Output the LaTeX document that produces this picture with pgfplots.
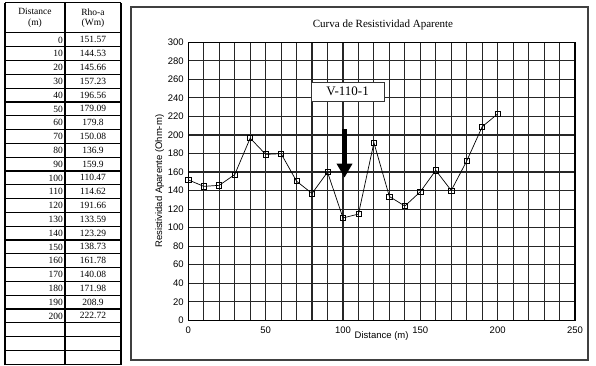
\documentclass[border=0pt]{standalone}
\usepackage{pgfplots}
\pgfplotsset{compat=1.18}
\usepackage{pgfplotstable}
\usepackage{fontspec}
\setmainfont{Liberation Serif}
\newfontfamily\arial{Liberation Sans}
\usetikzlibrary{arrows.meta}

\pgfplotstableread{
dist rho
0 151.57
10 144.53
20 145.66
30 157.23
40 196.56
50 179.09
60 179.8
70 150.08
80 136.9
90 159.9
100 110.47
110 114.62
120 191.66
130 133.59
140 123.29
150 138.73
160 161.78
170 140.08
180 171.98
190 208.9
200 222.72
}\rhodata

\begin{document}
\begin{tikzpicture}[x=1pt,y=1pt]
\path[use as bounding box] (0,0) rectangle (596,365);

% data table on the left
\def\rowh{13.8}
\def\tabfont{\fontsize{9.5}{10.5}\selectfont}
\draw[line width=1pt] (5,362) -- (121,362);
\draw[line width=1pt] (5,332) -- (121,332);
\node[font=\tabfont, align=center] at (35,347) {Distance\\(m)};
\node[font=\tabfont, align=center] at (93,347) {Rho-a\\(Wm)};
\foreach \d/\r [count=\i from 0] in {0/151.57,10/144.53,20/145.66,30/157.23,40/196.56,
  50/179.09,60/179.8,70/150.08,80/136.9,90/159.9,100/110.47,110/114.62,120/191.66,
  130/133.59,140/123.29,150/138.73,160/161.78,170/140.08,180/171.98,190/208.9,200/222.72}{
  \node[font=\tabfont, anchor=east, inner xsep=1pt] at (64,{332-(\i+0.5)*\rowh}) {\d};
  \node[font=\tabfont] at (93,{332-(\i+0.5)*\rowh}) {\r};
}
\foreach \i in {1,...,24}{
  \draw[line width=1.1pt] (5,{332-\i*\rowh}) -- (121,{332-\i*\rowh});
}
\draw[line width=1.3pt] (5,0) -- (5,362);
\draw[line width=1.3pt] (65,0) -- (65,362);
\draw[line width=1.3pt] (121,0) -- (121,362);

% chart frame
\draw[line width=1.2pt, black!75] (131,5) rectangle (588,358);
\node[font=\fontsize{11}{12}\selectfont] at (383,340) {Curva de Resistividad Aparente};

\begin{axis}[
  at={(188.3pt,44.7pt)}, anchor=south west,
  scale only axis, width=386.7pt, height=278pt,
  xmin=0, xmax=250, ymin=0, ymax=300,
  xtick={0,50,...,250}, minor x tick num=4,
  ytick={0,20,...,300},
  grid=both,
  major grid style={line width=1.1pt, black!85},
  minor grid style={line width=1.1pt, black!85},
  axis line style={line width=1.2pt, black},
  tick style={draw=none},
  /pgf/number format/assume math mode=true,
  ticklabel style={font=\arial\fontsize{9.5}{10}\selectfont},
  xticklabel style={yshift=-3pt},
  yticklabel style={xshift=-1pt},
  xlabel={Distance (m)},
  xlabel style={font=\arial\fontsize{9.5}{10}\selectfont, yshift=9pt},
  ylabel={Resistividad Aparente (Ohm-m)},
  ylabel style={font=\arial\fontsize{9.5}{10}\selectfont, yshift=-3pt},
  clip=false,
]
\addplot[black, line width=0.7pt, mark=square, mark size=2.6pt,
  mark options={fill=white, line width=0.7pt}] table[x=dist, y=rho] {\rhodata};
\draw[black, line width=4.5pt, -{Triangle[width=15pt,length=14pt]}]
  (axis cs:101,206) -- (axis cs:101,154);
\node[draw=black!80, fill=white, line width=0.8pt, minimum width=73pt, minimum height=19pt,
  font=\fontsize{13}{14}\selectfont] at (axis cs:103,247) {V-110-1};
\end{axis}
\end{tikzpicture}
\end{document}
